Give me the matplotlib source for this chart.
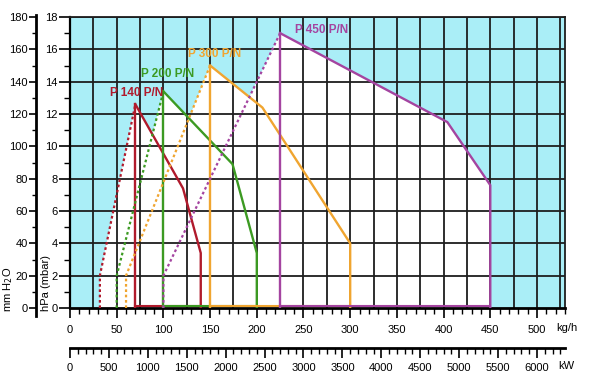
import matplotlib
matplotlib.use("Agg")
import matplotlib.pyplot as plt
from matplotlib.ticker import MultipleLocator
from matplotlib import font_manager

# ---------------- data ----------------
labels = ["P 140 P/N", "P 200 P/N", "P 300 P/N", "P 450 P/N"]
colors = ["#b01a2c", "#3c9a22", "#f0a530", "#a444a0"]
start_flow = [32, 50, 60, 100]          # kg/h, start of dotted line
start_press = [2, 2, 2, 2]              # hPa, top of dotted vertical
curve_flow = [
    [70, 121, 140, 140],
    [100, 174, 200, 200],
    [150, 206, 300, 300],
    [225, 404, 450, 450],
]
curve_press = [
    [12.6, 7.4, 3.4, 0],
    [13.4, 8.9, 3.4, 0],
    [15.0, 12.4, 4.0, 0],
    [17.0, 11.5, 7.6, 0],
]
label_pos = [(43, 13.3), (76, 14.5), (126, 15.7), (241, 17.2)]

kgh_ticks = [0, 50, 100, 150, 200, 250, 300, 350, 400, 450, 500]
kw_ticks = [0, 500, 1000, 1500, 2000, 2500, 3000, 3500, 4000, 4500, 5000, 5500, 6000]
hpa_ticks = [0, 2, 4, 6, 8, 10, 12, 14, 16, 18]
mm_ticks = [0, 20, 40, 60, 80, 100, 120, 140, 160, 180]
KW_PER_KGH = 12

# ---------------- style ----------------
names = {f.name for f in font_manager.fontManager.ttflist}
fam = "Liberation Sans Narrow" if "Liberation Sans Narrow" in names else "Liberation Sans"
plt.rcParams["font.family"] = [fam, "DejaVu Sans"]
TFS = 8

W, H = 591, 384
fig = plt.figure(figsize=(W / 100, H / 100), dpi=100)

def rect(x0, y0, x1, y1):
    return [x0 / W, 1 - y1 / H, (x1 - x0) / W, (y1 - y0) / H]

XMAX = 530
ax = fig.add_axes(rect(70, 17, 565, 308))
ax.set_xlim(0, XMAX)
ax.set_ylim(0, 18)
ax.set_facecolor("#aaeef7")

# white envelope polygons
for i in range(4):
    xs = [start_flow[i], start_flow[i]] + curve_flow[i]
    ys = [0, start_press[i]] + curve_press[i]
    ax.fill(xs, ys, color="white", zorder=0.5, lw=0)

# grid
for gx in range(25, XMAX, 25):
    ax.axvline(gx, color="#1e1e1e", lw=1.3, zorder=1)
for gy in range(2, 19, 2):
    ax.axhline(gy, color="#1e1e1e", lw=1.3, zorder=1)

# curves
for i in range(4):
    c = colors[i]
    px, py = curve_flow[i][0], curve_press[i][0]
    ax.plot([start_flow[i], start_flow[i], px], [0, start_press[i], py],
            color=c, lw=1.6, ls=(0, (1.2, 1.2)), zorder=3)
    ax.plot(curve_flow[i], curve_press[i], color=c, lw=1.7, zorder=3,
            solid_joinstyle="miter")
    ax.plot([px, px], [0, py], color=c, lw=1.7, zorder=3)
    ax.plot([px, curve_flow[i][-1]], [0.1, 0.1], color=c, lw=1.5, zorder=3)
    ax.text(label_pos[i][0], label_pos[i][1], labels[i], color=c,
            fontsize=8.5, fontweight="bold", ha="left", va="center", zorder=4)

for s in ["top", "right"]:
    ax.spines[s].set_color("#1e1e1e")
    ax.spines[s].set_linewidth(1.3)
ax.spines["bottom"].set_linewidth(2)
ax.spines["left"].set_linewidth(1.6)

ax.set_xticks(kgh_ticks)
ax.set_xticklabels([str(t) for t in kgh_ticks])
ax.xaxis.set_minor_locator(MultipleLocator(10))
ax.set_yticks(hpa_ticks)
ax.set_yticklabels([str(t) for t in hpa_ticks])
ax.yaxis.set_minor_locator(MultipleLocator(1))
ax.tick_params(axis="x", which="major", direction="out", length=7, width=1.2,
               labelsize=TFS, pad=5)
ax.tick_params(axis="x", which="minor", direction="out", length=4, width=1)
ax.tick_params(axis="y", which="major", direction="out", length=8, width=1.2,
               labelsize=TFS, pad=1)
ax.tick_params(axis="y", which="minor", direction="out", length=4, width=1)
fig.text(556 / W, 1 - 328 / H, "kg/h", fontsize=TFS, ha="left", va="center")
fig.text(46 / W, 1 - 311 / H, "hPa (mbar)", rotation=90,
         fontsize=TFS, ha="center", va="bottom")

# kW axis
axk = fig.add_axes(rect(70, 340, 565, 348))
axk.set_xlim(0, XMAX * KW_PER_KGH)
axk.set_ylim(0, 1)
axk.patch.set_visible(False)
for s in ["top", "right", "left"]:
    axk.spines[s].set_visible(False)
axk.spines["bottom"].set_linewidth(2)
axk.set_yticks([])
axk.set_xticks(kw_ticks)
axk.set_xticklabels([str(t) for t in kw_ticks])
axk.xaxis.set_minor_locator(MultipleLocator(100))
axk.tick_params(axis="x", which="major", direction="out", length=7, width=1.2,
                labelsize=TFS, pad=4)
axk.tick_params(axis="x", which="minor", direction="out", length=4, width=1)
fig.text(558 / W, 1 - 366 / H, "kW", fontsize=TFS, ha="left", va="center")

# mm H2O axis
mm_per_px = 180 / 291
axm = fig.add_axes(rect(36, 15, 40, 316))
axm.set_ylim(-8 * mm_per_px, 180 + 2 * mm_per_px)
axm.patch.set_visible(False)
for s in ["top", "right", "bottom"]:
    axm.spines[s].set_visible(False)
axm.spines["left"].set_linewidth(2)
axm.set_xticks([])
axm.set_yticks(mm_ticks)
axm.set_yticklabels([str(t) for t in mm_ticks])
axm.yaxis.set_minor_locator(MultipleLocator(10))
axm.tick_params(axis="y", which="major", direction="out", length=5, width=1.2,
                labelsize=TFS, pad=1)
axm.tick_params(axis="y", which="minor", direction="out", length=3, width=1)
fig.text(8 / W, 1 - 312 / H, "mm H$_2$O", rotation=90, fontsize=TFS,
         ha="center", va="bottom")

fig.savefig("out.png", dpi=100)
